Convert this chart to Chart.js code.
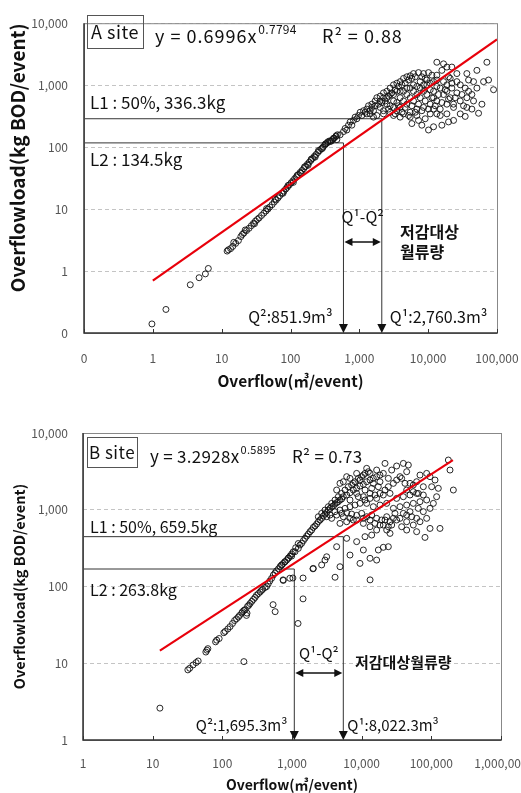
<!DOCTYPE html>
<html>
<head>
<meta charset="utf-8">
<script src="https://cdn.jsdelivr.net/npm/chart.js@4.4.0/dist/chart.umd.min.js"></script>
<style>
  body { margin: 0; background: #fff; width: 521px; height: 793px; position: relative; overflow: hidden; }
  canvas { position: absolute; left: 0; }
  #chartA { top: 0; }
  #chartB { top: 390px; }
</style>
</head>
<body>
<canvas id="chartA" width="521" height="390"></canvas>
<canvas id="chartB" width="521" height="403"></canvas>
<script>
// ---- A site ----
var xTicksA = [0.1, 1, 10, 100, 1000, 10000, 100000];
var xLabelsA = ['0', '1', '10', '100', '1,000', '10,000', '100,000'];
var yTicksA = [0.1, 1, 10, 100, 1000, 10000];
var yLabelsA = ['0', '1', '10', '100', '1,000', '10,000'];
var trendA = [[1, 0.7], [100000, 5500]];
var limitsA = [287, 117];   // L1, L2 (kg)
var flowsA = [2120, 588];   // Q1, Q2 (m3)
var pointsA = [
  [0.97,0.14],[1.55,0.24],[3.5,0.6],[4.7,0.78],[5.8,0.9],[6.4,1.1],
  [12,2.1],[12.5,2.2],[13.5,2.3],[14.5,2.5],[15,2.9],[16,2.8],[17.5,3.1],[19,3.6],[20,3.9],[21,4.1],
  [22,4.6],[23,4.5],[25,4.9],[27,5.4],[29,5.9],[30,5.8],[31,6.4],[33,6.8],[35,7.2],[38,7.9],[41,8.6],
  [44,9.3],[45,10.2],[47,10],[50,10.8],[54,11.8],[58,13],[60,14.5],[62,14],[66,15.2],[70,16.5],[75,18],
  [78,18],[80,19.5],[85,21],[90,22.5],[92,24],[96,24.5],[102,26.5],[108,28.5],[110,27],[115,31],[122,33],
  [125,35],[130,36],[138,39],[142,38],[147,42],[156,45],[160,48],[166,49],[176,53],[180,51],[187,57],
  [198,61],[200,64],[210,66],[222,71],[228,69],[235,76],[250,82],[255,88],[265,88],[280,94],[290,95],
  [296,100],[313,107],[320,112],[330,114],[345,118],[350,122],[370,126],[380,124],[390,125],[410,132],
  [420,138],[430,140],[455,148],[460,152],[480,158],
  [471,132],[526,158],[589,178],[622,200],[696,226],[736,255],[823,270],[869,305],[973,324],[1028,365],
  [1150,387],[1285,411],[1359,465],[1520,493],[1698,556],[1795,627],[2009,665],[2244,750],[2512,796],
  [2805,897],[3141,1012],[3508,1074],[3917,1140],[4385,1285],[4898,1365],[5483,1416],[6124,1538],
  [7244,1595],[8570,1538],[10115,1595],[13366,2344],[16711,2208],[18707,1959],[15812,1734],[13366,1449],
  [1285,344],[1607,387],[2009,437],[2512,493],[3141,556],[3917,627],[4898,706],[6124,796],[7656,897],
  [9572,1012],[11967,1140],[1607,305],[2244,344],[2805,365],[3508,387],[4385,344],[5483,365],[6855,411],
  [8570,437],[10715,493],[13366,556],[2009,556],[2512,627],[3141,706],[3917,796],[4898,897],[6124,1012],
  [7656,1140],[9572,1211],[3917,437],[4898,493],[6124,556],[7656,627],[9572,706],[11967,796],[14962,897],
  [18707,1012],[2805,465],[3508,524],[4385,556],[5483,627],[6855,706],[8570,796],[10715,845],[13366,953],
  [16711,1140],[20893,1285],
  [18707,796],[22080,897],[26121,750],[29242,556],[32659,465],[36475,627],[38637,1211],[45604,1140],
  [51050,1734],[71285,2344],[75336,1211],[89125,845],[43152,411],[34514,313],[53951,352],[23380,437],
  [18707,493],[14962,411],[26121,1140],[20893,627],[16711,706],[13366,344],[11967,411],[10115,189],
  [8091,226],[15812,226],[26121,1538],[36475,1538],[6855,324],[5483,305],[3917,305],[3141,324],
  [22080,1959],[23380,493],[38637,796],[45604,556],[29242,1012],[19770,1365],[11967,627],[10715,344],
  [658,189],[778,226],[920,287],[1087,324],[1216,365],[1436,387],[1520,437],[1698,465],[1899,493],
  [2123,524],[2373,556],[2655,665],[2965,750],[3319,845],[3707,953],[4150,1012],[4634,1074],[5186,1211],
  [5794,1285],[6486,1365],[8091,1365],[9057,1285],[11324,1449],[1436,344],[1795,324],[2244,387],
  [2655,411],[3141,437],[3707,465],[4634,437],[5794,465],[7244,493],[9057,556],[11324,627],[14158,706],
  [17700,845],[22080,1074],[2244,627],[2805,706],[3508,796],[4385,796],[5483,897],[6855,953],[8570,1012],
  [10715,1074],[13366,1211],[3319,344],[4150,365],[5186,324],[6486,365],[8091,387],[10115,411],
  [12647,465],[15812,524],[19770,592],[24717,627],[30903,706],[34514,897],[43152,706],[51050,897],
  [63826,1140],[60395,493],[36475,437],[29242,344],[18707,344],[14962,324],[9057,287],[7244,270],
  [5794,240],[11967,213],[19770,255],[23380,270]
];

// ---- B site ----
var xTicksB = [1, 10, 100, 1000, 10000, 100000, 1000000];
var xLabelsB = ['1', '10', '100', '1,000', '10,000', '100,000', '1,000,000'];
var yTicksB = [1, 10, 100, 1000, 10000];
var yLabelsB = ['1', '10', '100', '1,000', '10,000'];
var trendB = [[12.7, 14.6], [204000, 4440]];
var limitsB = [446, 169];
var flowsB = [5450, 1079];
var pointsB = [
  [12.7,2.6],[32,8.2],[34,8.6],[38,9.5],[42,10.2],[45,10.7],[58,14],[60,14.8],[62,15.5],[80,19],[83,20],
  [90,21],[105,25],[110,26],[120,28],[129,30],[140,33],[150,36],[160,38],[170,40],[177,42],[190,45],
  [195,47],[205,49],[213,50],[230,55],[240,57],[250,60],[265,64],[280,68],[295,72],[310,77],[330,81],
  [349,85],[365,89],[380,92],[410,97],[433,100],[455,108],[480,118],[510,128],[540,141],[570,150],
  [600,160],[640,170],[675,182],[710,190],[750,200],[790,210],[840,221],[890,236],[940,250],[990,265],
  [1040,283],[1130,320],[1230,363],
  [204,10.5],[222,42],[226,45],[535,58],[573,47],[750,120],[930,128],[1440,69],[1220,33],
  [2000,170],[1440,129],[13200,122],[4150,132],[1030,129],[745,122],
  [711,191],[793,210],[885,233],[988,249],[1104,284],[1233,314],[1303,347],[1377,365],[1455,395],
  [1537,424],[1624,454],[1716,482],[1813,518],[1915,544],[2023,589],[2138,614],[2259,651],[2387,698],
  [2522,735],[2665,773],[2816,828],[2976,879],[3144,916],[3322,991],[3510,1042],[3709,1096],[3919,1117],
  [4141,1186],[4375,1236],[4623,1274],[4885,1340],[5162,1380],[5454,1479],[6094,1556],[6800,1667],
  [7590,1807],[8470,1901],[9460,2037],[10570,2143],[11800,2318],[13180,2438],[14690,2564],[16410,2697],
  [18320,2830],
  [3144,811],[3709,773],[4375,853],[5162,897],[6094,916],[7180,879],[8470,845],[10000,897],[11800,811],
  [13930,853],[16410,773],[19370,735],[22860,811],[25520,698],[28510,773],[20460,632],[22860,544],
  [25520,492],[16410,544],[13180,601],[10570,664],[7590,735],[6094,698],[4885,664],
  [4375,1807],[4885,2208],[5454,2318],[6094,2697],[6800,2564],[7590,2208],[8470,2976],[9460,2438],
  [10570,2830],[11800,3462],[13180,2976],[14690,2208],[16410,3291],[18320,2318],[20460,2976],[21630,4018],
  [24150,2564],[26980,3291],[31770,3715],[35480,2697],[39630,4018],[44260,3130],[46770,3826],[49430,2208],
  [55080,2099],[61520,2318],[65010,1633],[68710,2830],[76740,1995],[85700,2976],[95720,2697],[101160,1995],
  [112980,2438],[125900,1901],[175390,4446],[185350,3291],[207010,1807],
  [8470,1633],[10570,1479],[13180,1633],[16410,1406],[20460,1556],[25520,1633],[31770,1406],[39630,1479],
  [49430,1556],[61520,1633],[11800,1211],[14690,1096],[18320,1151],[22860,1211],[28510,1042],[35480,1096],
  [44260,1151],[55080,1211],[68710,1274],[85700,1340],[95720,1042],[39630,897],[49430,944],[61520,773],
  [44260,698],[55080,632],[35480,773],
  [44260,544],[61520,518],[81100,436],[95720,571],[133050,571],[24150,330],[20460,324],[17340,299],
  [11170,446],[13930,468],[10570,299],[13180,233],[9460,200],[16410,221],[6800,257],[4885,181],[4375,330],
  [3144,244],[2976,221],[2023,172],[2665,191],[8470,384],[6094,424],
  [2387,811],[2665,897],[2976,991],[3322,1096],[3709,1211],[4141,1340],[4623,1479],[5162,1633],
  [5768,1807],[6430,1995],[7180,2099],[8015,2318],[8954,2564],[10000,2697],[11170,2976],[12470,3130],
  [3510,853],[4141,944],[4885,991],[5768,1042],[6800,1096],[8015,1151],[9460,1211],[11170,1340],
  [13180,1406],[15520,1556],[18320,1633],[21630,1807],[24150,1995],[28510,2208],[31770,2438],[37500,2564],
  [41880,2208],[17340,1995],[13930,1901],[11170,1807],[8954,1479],[6800,1340],[5454,811],[6800,773],
  [8470,735],[10570,773],[13180,735],[15520,664],[18320,632],[21630,735],[24150,601],[26980,632],
  [30060,897],[31770,735],[37500,601],[44260,853],[52240,811],[65010,1042],[76740,944],[68710,698],
  [85700,773],[106900,1211],[119100,1479],[76740,1556],[55080,1718],[44260,1807]
];

var FONT = "'Noto Sans CJK KR', 'Noto Sans', sans-serif";
Chart.defaults.font.family = FONT;

function txt(ctx, s, x, y, size, opt) {
  opt = opt || {};
  ctx.font = (opt.bold ? 'bold ' : '') + size + 'px ' + FONT;
  ctx.letterSpacing = opt.ls || '0px';
  ctx.fillStyle = '#111';
  ctx.textAlign = opt.align || 'left';
  ctx.textBaseline = 'middle';
  ctx.fillText(s, x, y);
  var w = ctx.measureText(s).width;
  ctx.letterSpacing = '0px';
  return w;
}

function overlay(cfg) {
  return {
    id: 'overlay',
    beforeDatasetsDraw: function (chart) {
      var ctx = chart.ctx, a = chart.chartArea, sx = chart.scales.x, sy = chart.scales.y;
      var q1 = sx.getPixelForValue(cfg.flows[0]), q2 = sx.getPixelForValue(cfg.flows[1]);
      var l1 = sy.getPixelForValue(cfg.limits[0]), l2 = sy.getPixelForValue(cfg.limits[1]);
      ctx.save();
      ctx.strokeStyle = '#333';
      ctx.lineWidth = 1;
      ctx.beginPath();
      ctx.moveTo(a.left, l1); ctx.lineTo(q1, l1); ctx.lineTo(q1, a.bottom - 8);
      ctx.moveTo(a.left, l2); ctx.lineTo(q2, l2); ctx.lineTo(q2, a.bottom - 8);
      ctx.stroke();
      ctx.restore();
    },
    afterDraw: function (chart) {
      var ctx = chart.ctx, a = chart.chartArea, sx = chart.scales.x;
      var q1 = sx.getPixelForValue(cfg.flows[0]), q2 = sx.getPixelForValue(cfg.flows[1]);
      ctx.save();
      // plot frame
      ctx.strokeStyle = '#888';
      ctx.lineWidth = 1;
      ctx.strokeRect(a.left + 0.5, a.top + 0.5, a.right - a.left, a.bottom - a.top);
      ctx.strokeStyle = '#333';
      ctx.lineWidth = 1.5;
      ctx.beginPath();
      ctx.moveTo(a.left, a.top); ctx.lineTo(a.left, a.bottom); ctx.lineTo(a.right, a.bottom);
      ctx.stroke();
      // small inner tick marks on x axis
      ctx.lineWidth = 1;
      ctx.beginPath();
      cfg.xTicks.forEach(function (v) {
        var px = Math.round(sx.getPixelForValue(v)) + 0.5;
        ctx.moveTo(px, a.bottom); ctx.lineTo(px, a.bottom - 4);
      });
      ctx.stroke();
      // arrow heads at the bottom of Q lines
      ctx.fillStyle = '#111';
      [q1, q2].forEach(function (q) {
        ctx.beginPath();
        ctx.moveTo(q - 4.5, a.bottom - 9); ctx.lineTo(q + 4.5, a.bottom - 9); ctx.lineTo(q, a.bottom);
        ctx.closePath(); ctx.fill();
      });
      // double arrow between Q2 and Q1
      var ay = cfg.arrowY;
      ctx.strokeStyle = '#111';
      ctx.lineWidth = 1.5;
      ctx.beginPath(); ctx.moveTo(q2 + 4, ay); ctx.lineTo(q1 - 4, ay); ctx.stroke();
      ctx.beginPath();
      ctx.moveTo(q2 + 1, ay); ctx.lineTo(q2 + 9, ay - 4); ctx.lineTo(q2 + 9, ay + 4); ctx.closePath();
      ctx.moveTo(q1 - 1, ay); ctx.lineTo(q1 - 9, ay - 4); ctx.lineTo(q1 - 9, ay + 4); ctx.closePath();
      ctx.fill();
      // site box
      var b = cfg.box;
      ctx.strokeStyle = '#555'; ctx.lineWidth = 1;
      ctx.strokeRect(b[0] + 0.5, b[1] + 0.5, b[2], b[3]);
      txt(ctx, cfg.site, b[0] + b[2] / 2, b[1] + b[3] / 2 + 1, cfg.fs + 1, { align: 'center', ls: '0.5px' });
      // equation with superscript
      var w = txt(ctx, cfg.eq, cfg.eqX, cfg.eqY, cfg.fs + 1, { ls: cfg.eqLs });
      txt(ctx, cfg.eqExp, cfg.eqX + w + 1, cfg.eqY - 7, cfg.fs - 5, { ls: '0.3px' });
      txt(ctx, cfg.r2, cfg.r2X, cfg.eqY, cfg.fs + 1, { ls: cfg.eqLs });
      // limit labels
      txt(ctx, cfg.l1Text, 90, cfg.l1Y, cfg.fs);
      txt(ctx, cfg.l2Text, 90, cfg.l2Y, cfg.fs);
      // Q labels
      txt(ctx, 'Q¹-Q²', (q1 + q2) / 2, cfg.qqY, cfg.fs - 1, { align: 'center' });
      cfg.korean.forEach(function (k) { txt(ctx, k[0], k[1], k[2], cfg.fs - 1, { bold: true }); });
      txt(ctx, cfg.q2Text, q2 - cfg.q2Gap, cfg.qY, cfg.fs - 1, { align: 'right' });
      txt(ctx, cfg.q1Text, q1 + cfg.q1Gap, cfg.qY, cfg.fs - 1);
      ctx.restore();
    }
  };
}

function makeChart(id, o) {
  var ctx = document.getElementById(id).getContext('2d');
  var H = ctx.canvas.height;
  return new Chart(ctx, {
    type: 'scatter',
    data: {
      datasets: [
        {
          data: o.trend.map(function (p) { return { x: p[0], y: p[1] }; }),
          showLine: true,
          borderColor: '#e8000b',
          borderWidth: 2.2,
          pointRadius: 0,
          order: 0
        },
        {
          data: o.points.map(function (p) { return { x: p[0], y: p[1] }; }),
          pointRadius: 3,
          pointBorderWidth: 0.9,
          borderColor: '#111',
          backgroundColor: 'rgba(0,0,0,0)',
          order: 1
        }
      ]
    },
    options: {
      responsive: false,
      animation: false,
      layout: { padding: { top: o.top, right: o.right, left: 0, bottom: 0 } },
      plugins: { legend: { display: false }, tooltip: { enabled: false } },
      scales: {
        x: {
          type: 'logarithmic',
          min: o.xTicks[0],
          max: o.xTicks[o.xTicks.length - 1],
          afterBuildTicks: function (s) { s.ticks = o.xTicks.map(function (v) { return { value: v }; }); },
          afterFit: function (s) { s.height = H - o.bottom; s.paddingLeft = 0; s.paddingRight = 0; },
          ticks: {
            autoSkip: false, maxRotation: 0, color: '#555', padding: o.xPad,
            font: { size: 12 },
            callback: function (v, i) { return o.xLabels[i]; }
          },
          grid: { display: false, drawTicks: false },
          border: { display: false },
          title: {
            display: true, text: 'Overflow(㎥/event)', color: '#111',
            font: { size: o.titleSize, weight: 'bold' }, padding: { top: 0, bottom: 0 }
          }
        },
        y: {
          type: 'logarithmic',
          min: o.yTicks[0],
          max: o.yTicks[o.yTicks.length - 1],
          afterBuildTicks: function (s) { s.ticks = o.yTicks.map(function (v) { return { value: v }; }); },
          afterFit: function (s) { s.width = o.left; },
          ticks: {
            color: '#555', padding: o.yPad, font: { size: 12 },
            callback: function (v, i) { return o.yLabels[i]; }
          },
          grid: { color: '#c4c4c4', drawTicks: false },
          border: { display: false, dash: [4, 3] },
          title: {
            display: true, text: 'Overflowload(kg BOD/event)', color: '#111', align: o.yAlign,
            font: { size: o.yTitleSize, weight: 'bold' }, padding: { top: o.yTitlePad }
          }
        }
      }
    },
    plugins: [overlay(o.ann)]
  });
}

makeChart('chartA', {
  points: pointsA, trend: trendA, xTicks: xTicksA, xLabels: xLabelsA, yTicks: yTicksA, yLabels: yLabelsA,
  top: 13, right: 24, left: 84, bottom: 333, xPad: 18, yPad: 16,
  titleSize: 15.5, yTitleSize: 19, yAlign: 'end', yTitlePad: 6,
  ann: {
    flows: flowsA, limits: limitsA, xTicks: xTicksA, fs: 17,
    box: [87, 15, 56, 33], site: 'A site',
    eq: 'y = 0.6996x', eqExp: '0.7794', eqX: 155, eqY: 36, eqLs: '1px', r2: 'R² = 0.88', r2X: 322,
    l1Text: 'L1 : 50%, 336.3kg', l1Y: 103, l2Text: 'L2 : 134.5kg', l2Y: 160,
    arrowY: 242, qqY: 217,
    korean: [['저감대상', 400, 232], ['월류량', 400, 252]],
    q2Text: 'Q²:851.9m³', q2Gap: 11, q1Text: 'Q¹:2,760.3m³', q1Gap: 8, qY: 317
  }
});

makeChart('chartB', {
  points: pointsB, trend: trendB, xTicks: xTicksB, xLabels: xLabelsB, yTicks: yTicksB, yLabels: yLabelsB,
  top: 43, right: 20, left: 83, bottom: 350, xPad: 16, yPad: 15,
  titleSize: 14, yTitleSize: 14.5, yAlign: 'center', yTitlePad: 11,
  ann: {
    flows: flowsB, limits: limitsB, xTicks: xTicksB, fs: 16,
    box: [87, 47, 50, 30], site: 'B site',
    eq: 'y = 3.2928x', eqExp: '0.5895', eqX: 150, eqY: 67, eqLs: '0.3px', r2: 'R² = 0.73', r2X: 292,
    l1Text: 'L1 : 50%, 659.5kg', l1Y: 137, l2Text: 'L2 : 263.8kg', l2Y: 200,
    arrowY: 283, qqY: 263,
    korean: [['저감대상월류량', 355, 272]],
    q2Text: 'Q²:1,695.3m³', q2Gap: 7, q1Text: 'Q¹:8,022.3m³', q1Gap: 4, qY: 335
  }
});
</script>
</body>
</html>
